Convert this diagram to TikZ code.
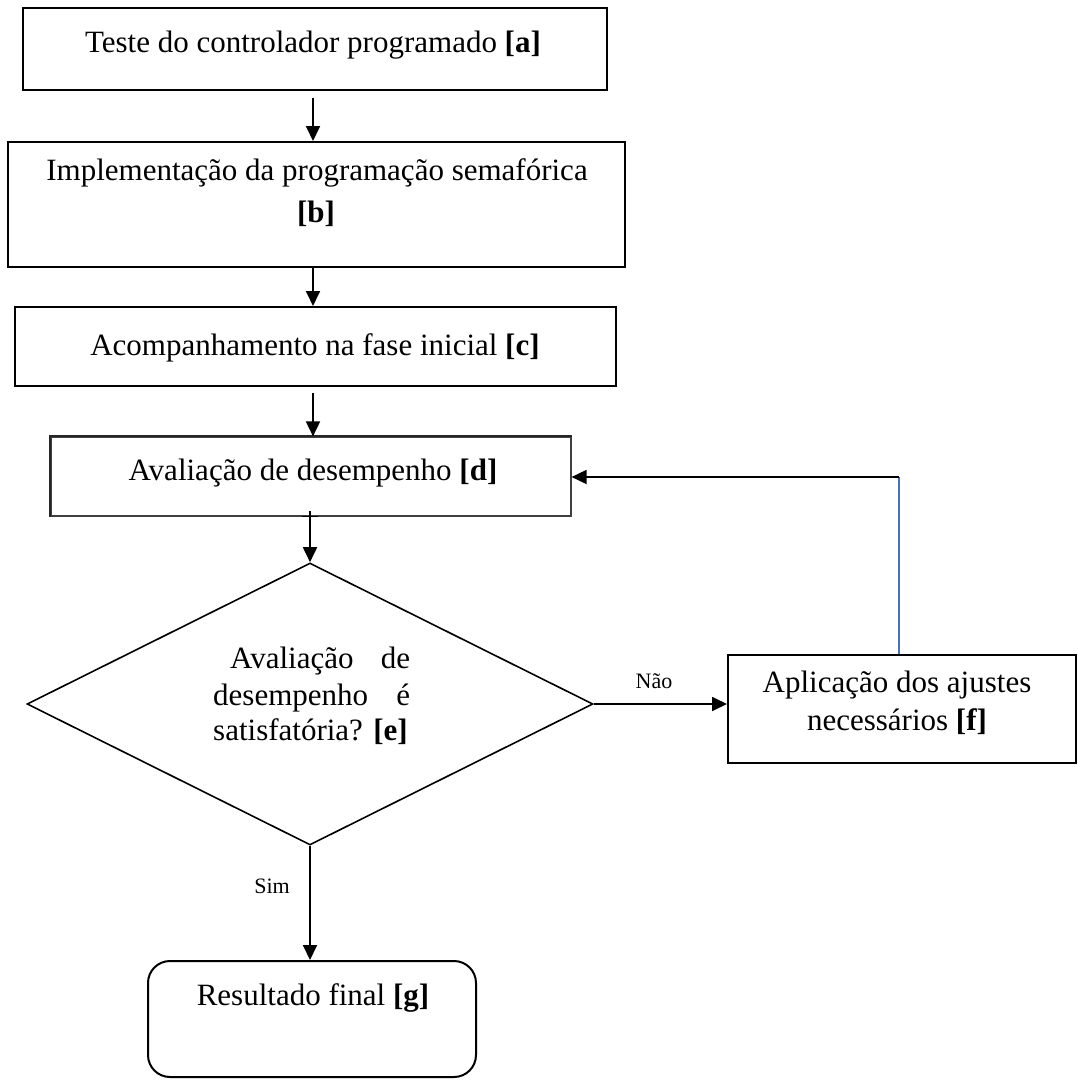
\documentclass[tikz,border=0pt]{standalone}
\usepackage{fontspec}
\setmainfont{Liberation Serif}
\usetikzlibrary{arrows.meta,shapes.geometric,calc}
\definecolor{linkblue}{HTML}{4472C4}
\begin{document}
\begin{tikzpicture}[x=1pt,y=-1pt,
  box/.style={draw, line width=2pt, rectangle, inner sep=0pt},
  txt/.style={anchor=base, inner sep=0pt, font=\fontsize{31}{38}\selectfont},
  txtl/.style={anchor=base west, inner sep=0pt, font=\fontsize{31}{38}\selectfont},
  lbl/.style={anchor=base, inner sep=0pt, font=\fontsize{22}{26}\selectfont},
  arr/.style={line width=1.8pt, -{Triangle[length=15pt,width=14pt]}},
]
\useasboundingbox (0,0) rectangle (1078,1079);
\fill[white] (0,0) rectangle (1078,1079);
\coordinate (col) at (313,0);

% boxes
\node[box, minimum width=584pt, minimum height=82pt] (a) at (315,49) {};
\node[box, minimum width=617pt, minimum height=125pt] (b) at (316.5,204.5) {};
\node[box, minimum width=601pt, minimum height=79pt] (c) at (315.5,346.5) {};
\node[draw=black!75, line width=1.2pt, rectangle, inner sep=0pt, minimum width=520pt, minimum height=79pt] (d) at (311,476.5) {};
\draw[line width=2pt, black!85] (d.south west) -- (d.north west) -- (d.north east);
\node[diamond, draw, line width=1.6pt, inner sep=0pt, minimum width=566pt, minimum height=282pt] (e) at (310,704) {};
\node[box, minimum width=348pt, minimum height=108pt] (f) at (902,709) {};
\node[box, rounded corners=22pt, minimum width=328pt, minimum height=116pt] (g) at (312,1019) {};

% texts
\node[txt] (ta) at (313,52) {Teste do controlador programado \textbf{[a]}};
\node[txt] (tb1) at (317,180) {Implementação da programação semafórica};
\node[txt] (tb2) at (316,222) {\textbf{[b]}};
\node[txt] (tc) at (315,355) {Acompanhamento na fase inicial \textbf{[c]}};
\node[txt] (td) at (313,480) {Avaliação de desempenho \textbf{[d]}};
\node[txtl] (te1) at (230,668) {\makebox[180pt][s]{Avaliação de}};
\node[txtl] (te2) at (213,705) {\makebox[197pt][s]{desempenho é}};
\node[txtl] (te3) at (213,740) {satisfatória? \textbf{[e]}};
\node[txt] (tf1) at (897,692) {Aplicação dos ajustes};
\node[txt] (tf2) at (897,730) {necessários \textbf{[f]}};
\node[txt] (tg) at (313,1005) {Resultado final \textbf{[g]}};
\node[lbl] (nao) at (654,688) {Não};
\node[lbl] (sim) at (272,893) {Sim};

% connectors
\draw[arr] ($(a.south -| col)+(0,7)$) -- (b.north -| col);
\draw[arr] (b.south -| col) -- (c.north -| col);
\draw[arr] ($(c.south -| col)+(0,6)$) -- (d.north -| col);
\draw[arr] ($(d.south -| e.north)+(0,-6)$) -- (e.north);
\draw[line width=1.6pt] ($(d.south -| e.north)+(-8,0)$) -- ($(d.south -| e.north)+(8,0)$);
\draw[arr] (e.east) -- (f.west |- e.east);
\draw[arr] (e.south) -- (g.north -| e.south);
\coordinate (fb) at (899,477);
\draw[linkblue, line width=1.4pt] (f.north -| fb) -- (fb);
\draw[arr] (fb) -- (d.east |- fb);
\end{tikzpicture}
\end{document}
